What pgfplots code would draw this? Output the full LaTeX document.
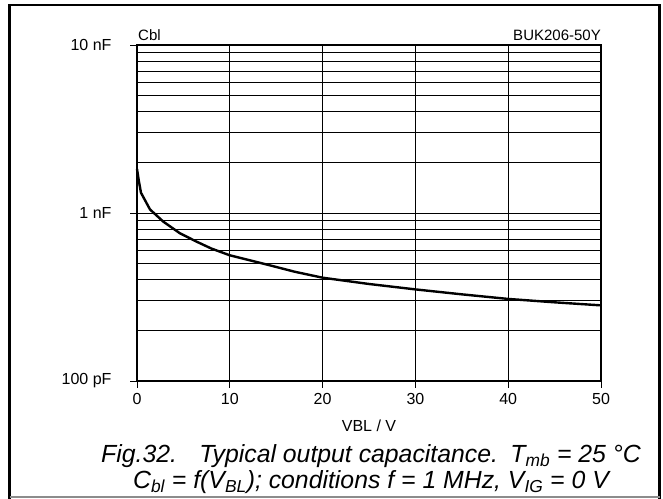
\documentclass[border=0pt]{standalone}
\usepackage{fontspec}
\setmainfont{Liberation Sans}
\usepackage{pgfplots}
\pgfplotsset{compat=1.18}

\begin{document}
\begin{tikzpicture}
% page = 663 x 499 bp, 1 bp per pixel
\path[use as bounding box] (0,0) rectangle (663bp,499bp);
\draw[line width=2.5bp] (9.5bp,0bp) -- (9.5bp,494bp) -- (659.5bp,494bp) -- (659.5bp,0bp);
\draw[line width=1.5bp, black!45] (9.5bp,2bp) -- (659.5bp,2bp);

\begin{axis}[
    at={(137bp,118bp)}, anchor=south west,
    scale only axis, width=464bp, height=336bp,
    ymode=log,
    xmin=0, xmax=50, ymin=0.1, ymax=10,
    xtick={0,10,...,50},
    ytick={0.1,1,10},
    yticklabels={100 pF,1 nF,10 nF},
    /pgf/number format/assume math mode=true,
    xmajorgrids, ymajorgrids, yminorgrids,
    grid style={line width=0.9bp, black},
    minor grid style={line width=0.9bp, black},
    axis line style={line width=1.3bp},
    tick pos=left,
    tick align=outside,
    major tick length=7bp,
    minor tick length=0pt,
    major tick style={line width=0.9bp, black},
    tick label style={font=\fontsize{16bp}{18bp}\selectfont},
    yticklabel style={xshift=-15bp},
    xticklabel style={yshift=-2bp},
    xlabel={VBL / V},
    xlabel style={font=\fontsize{16bp}{18bp}\selectfont, yshift=-8bp},
    clip=false,
]
\addplot[line width=2.4bp, black, line join=round] coordinates {
    (0,1.83) (0.2,1.55) (0.43,1.32) (1.4,1.05) (2.84,0.888) (4.63,0.757)
    (6.43,0.675) (8,0.615) (10,0.56) (14.2,0.49) (17,0.447) (20,0.412)
    (25,0.378) (30,0.351) (35,0.328) (40,0.308) (45,0.294) (50,0.282)
};
\node[anchor=south west, inner sep=0pt, font=\fontsize{15bp}{17bp}\selectfont]
    at (rel axis cs:0,1) [xshift=1bp, yshift=4bp] {Cbl};
\node[anchor=south east, inner sep=0pt, font=\fontsize{15bp}{17bp}\selectfont]
    at (rel axis cs:1,1) [yshift=4bp] {BUK206-50Y};
\end{axis}

\node[font=\fontsize{24.8bp}{26bp}\selectfont\itshape, align=center, inner sep=0pt]
    at (371bp,30bp)
    {Fig.32.\hspace{0.9em}Typical output capacitance.\hspace{0.5em}T\textsubscript{mb} = 25 °C\\
     C\textsubscript{bl} = f(V\textsubscript{BL}); conditions f = 1 MHz, V\textsubscript{IG} = 0 V};
\end{tikzpicture}
\end{document}
